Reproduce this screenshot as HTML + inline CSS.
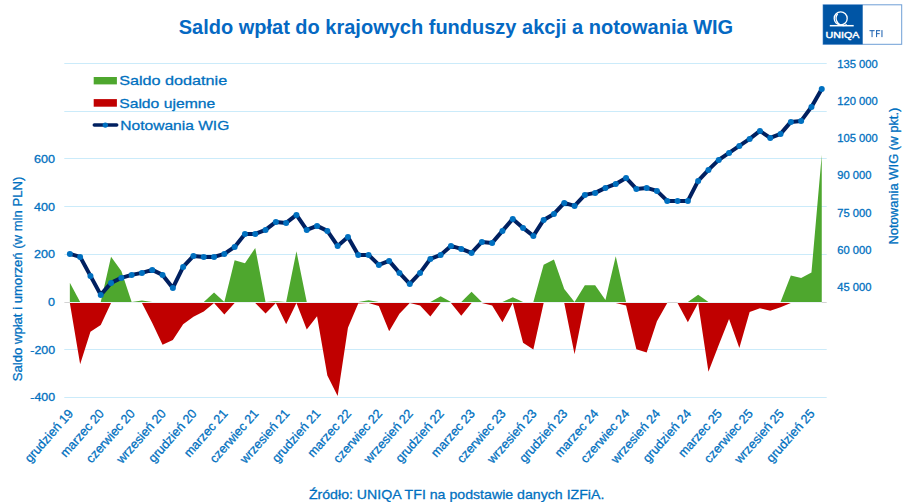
<!DOCTYPE html>
<html><head><meta charset="utf-8">
<style>
html,body{margin:0;padding:0;background:#fff;}
body{width:907px;height:502px;overflow:hidden;}
svg{display:block;font-family:"Liberation Sans",sans-serif;}
</style></head><body>
<svg width="907" height="502" viewBox="0 0 907 502">
<rect width="907" height="502" fill="#fff"/>

<line x1="64.3" x2="826.7" y1="63.50" y2="63.50" stroke="#cbebfa" stroke-width="1"/>
<line x1="64.3" x2="826.7" y1="111.50" y2="111.50" stroke="#cbebfa" stroke-width="1"/>
<line x1="64.3" x2="826.7" y1="158.50" y2="158.50" stroke="#cbebfa" stroke-width="1"/>
<line x1="64.3" x2="826.7" y1="206.50" y2="206.50" stroke="#cbebfa" stroke-width="1"/>
<line x1="64.3" x2="826.7" y1="254.50" y2="254.50" stroke="#cbebfa" stroke-width="1"/>
<line x1="64.3" x2="826.7" y1="349.50" y2="349.50" stroke="#cbebfa" stroke-width="1"/>
<line x1="64.3" x2="826.7" y1="397.50" y2="397.50" stroke="#cbebfa" stroke-width="1"/>
<line x1="64.4" x2="826.7" y1="302.5" y2="302.5" stroke="#d3d3d3" stroke-width="1"/>
<line x1="69.85" x2="667.25" y1="302.5" y2="302.5" stroke="#eaf3f6" stroke-width="1"/>
<line x1="677.55" x2="821.75" y1="302.5" y2="302.5" stroke="#eaf3f6" stroke-width="1"/>
<polygon points="69.85,302 69.85,282.75 80.15,302.00 90.45,302.00 100.75,302.00 111.05,256.78 121.35,271.08 131.65,302.00 141.95,300.38 152.25,302.00 162.55,302.00 172.85,302.00 183.15,302.00 193.45,302.00 203.75,302.00 214.05,292.52 224.35,302.00 234.65,260.36 244.95,263.22 255.25,247.97 265.55,302.00 275.85,301.34 286.15,302.00 296.45,251.30 306.75,302.00 317.05,302.00 327.35,302.00 337.65,302.00 347.95,302.00 358.25,302.00 368.55,300.14 378.85,302.00 389.15,302.00 399.45,302.00 409.75,302.00 420.05,302.00 430.35,302.00 440.65,296.33 450.95,302.00 461.25,302.00 471.55,291.81 481.85,302.00 492.15,302.00 502.45,302.00 512.75,297.29 523.05,302.00 533.35,302.00 543.65,264.64 553.95,259.40 564.25,288.95 574.55,302.00 584.85,285.13 595.15,285.13 605.45,299.91 615.75,256.31 626.05,302.00 636.35,302.00 646.65,302.00 656.95,302.00 667.25,302.00 677.55,302.00 687.85,302.00 698.15,294.66 708.45,302.00 718.75,302.00 729.05,302.00 739.35,302.00 749.65,302.00 759.95,302.00 770.25,302.00 780.55,302.00 790.85,275.60 801.15,277.99 811.45,272.51 821.75,154.81 821.75,302" fill="#4ea72e"/>
<polygon points="69.85,303 69.85,303.00 80.15,364.23 90.45,331.83 100.75,324.92 111.05,303.00 121.35,303.00 131.65,303.00 141.95,303.00 152.25,323.02 162.55,344.70 172.85,339.93 183.15,324.21 193.45,316.82 203.75,311.58 214.05,303.00 224.35,314.44 234.65,303.00 244.95,303.00 255.25,303.00 265.55,313.49 275.85,303.00 286.15,324.21 296.45,303.00 306.75,329.45 317.05,316.35 327.35,375.43 337.65,395.92 347.95,327.78 358.25,303.48 368.55,303.00 378.85,306.10 389.15,331.35 399.45,313.72 409.75,303.00 420.05,305.62 430.35,316.58 440.65,303.00 450.95,303.00 461.25,315.63 471.55,303.00 481.85,303.00 492.15,305.62 502.45,322.30 512.75,303.00 523.05,342.79 533.35,349.46 543.65,303.00 553.95,303.00 564.25,303.00 574.55,354.23 584.85,303.00 595.15,303.00 605.45,303.00 615.75,303.00 626.05,305.62 636.35,349.22 646.65,352.56 656.95,321.35 667.25,303.00 677.55,303.00 687.85,322.30 698.15,303.00 708.45,371.86 718.75,344.94 729.05,318.97 739.35,348.03 749.65,312.06 759.95,308.24 770.25,310.87 780.55,307.29 790.85,303.00 801.15,303.00 811.45,303.00 821.75,303.00 821.75,303" fill="#c00000"/>
<polyline points="69.85,253.90 80.15,256.90 90.45,275.90 100.75,294.90 111.05,282.90 121.35,277.90 131.65,274.90 141.95,272.90 152.25,269.90 162.55,274.90 172.85,287.90 183.15,266.90 193.45,255.90 203.75,256.90 214.05,256.90 224.35,253.90 234.65,246.90 244.95,233.90 255.25,233.90 265.55,229.90 275.85,221.90 286.15,222.90 296.45,214.90 306.75,229.90 317.05,225.90 327.35,230.90 337.65,245.90 347.95,236.90 358.25,254.90 368.55,254.90 378.85,264.90 389.15,260.90 399.45,272.90 409.75,283.90 420.05,272.90 430.35,258.90 440.65,254.90 450.95,245.90 461.25,248.90 471.55,252.90 481.85,241.90 492.15,242.90 502.45,230.90 512.75,218.90 523.05,227.90 533.35,235.90 543.65,219.90 553.95,213.90 564.25,202.90 574.55,205.90 584.85,194.90 595.15,192.90 605.45,187.90 615.75,183.90 626.05,177.90 636.35,188.90 646.65,187.90 656.95,190.90 667.25,200.90 677.55,200.90 687.85,200.90 698.15,180.90 708.45,169.90 718.75,159.90 729.05,152.90 739.35,145.90 749.65,138.90 759.95,130.90 770.25,137.90 780.55,133.90 790.85,121.90 801.15,120.90 811.45,106.90 821.75,88.90" fill="none" stroke="#002060" stroke-width="4" stroke-linejoin="round" stroke-linecap="round"/>
<circle cx="69.85" cy="253.90" r="3.0" fill="#0070c0"/>
<circle cx="80.15" cy="256.90" r="3.0" fill="#0070c0"/>
<circle cx="90.45" cy="275.90" r="3.0" fill="#0070c0"/>
<circle cx="100.75" cy="294.90" r="3.0" fill="#0070c0"/>
<circle cx="111.05" cy="282.90" r="3.0" fill="#0070c0"/>
<circle cx="121.35" cy="277.90" r="3.0" fill="#0070c0"/>
<circle cx="131.65" cy="274.90" r="3.0" fill="#0070c0"/>
<circle cx="141.95" cy="272.90" r="3.0" fill="#0070c0"/>
<circle cx="152.25" cy="269.90" r="3.0" fill="#0070c0"/>
<circle cx="162.55" cy="274.90" r="3.0" fill="#0070c0"/>
<circle cx="172.85" cy="287.90" r="3.0" fill="#0070c0"/>
<circle cx="183.15" cy="266.90" r="3.0" fill="#0070c0"/>
<circle cx="193.45" cy="255.90" r="3.0" fill="#0070c0"/>
<circle cx="203.75" cy="256.90" r="3.0" fill="#0070c0"/>
<circle cx="214.05" cy="256.90" r="3.0" fill="#0070c0"/>
<circle cx="224.35" cy="253.90" r="3.0" fill="#0070c0"/>
<circle cx="234.65" cy="246.90" r="3.0" fill="#0070c0"/>
<circle cx="244.95" cy="233.90" r="3.0" fill="#0070c0"/>
<circle cx="255.25" cy="233.90" r="3.0" fill="#0070c0"/>
<circle cx="265.55" cy="229.90" r="3.0" fill="#0070c0"/>
<circle cx="275.85" cy="221.90" r="3.0" fill="#0070c0"/>
<circle cx="286.15" cy="222.90" r="3.0" fill="#0070c0"/>
<circle cx="296.45" cy="214.90" r="3.0" fill="#0070c0"/>
<circle cx="306.75" cy="229.90" r="3.0" fill="#0070c0"/>
<circle cx="317.05" cy="225.90" r="3.0" fill="#0070c0"/>
<circle cx="327.35" cy="230.90" r="3.0" fill="#0070c0"/>
<circle cx="337.65" cy="245.90" r="3.0" fill="#0070c0"/>
<circle cx="347.95" cy="236.90" r="3.0" fill="#0070c0"/>
<circle cx="358.25" cy="254.90" r="3.0" fill="#0070c0"/>
<circle cx="368.55" cy="254.90" r="3.0" fill="#0070c0"/>
<circle cx="378.85" cy="264.90" r="3.0" fill="#0070c0"/>
<circle cx="389.15" cy="260.90" r="3.0" fill="#0070c0"/>
<circle cx="399.45" cy="272.90" r="3.0" fill="#0070c0"/>
<circle cx="409.75" cy="283.90" r="3.0" fill="#0070c0"/>
<circle cx="420.05" cy="272.90" r="3.0" fill="#0070c0"/>
<circle cx="430.35" cy="258.90" r="3.0" fill="#0070c0"/>
<circle cx="440.65" cy="254.90" r="3.0" fill="#0070c0"/>
<circle cx="450.95" cy="245.90" r="3.0" fill="#0070c0"/>
<circle cx="461.25" cy="248.90" r="3.0" fill="#0070c0"/>
<circle cx="471.55" cy="252.90" r="3.0" fill="#0070c0"/>
<circle cx="481.85" cy="241.90" r="3.0" fill="#0070c0"/>
<circle cx="492.15" cy="242.90" r="3.0" fill="#0070c0"/>
<circle cx="502.45" cy="230.90" r="3.0" fill="#0070c0"/>
<circle cx="512.75" cy="218.90" r="3.0" fill="#0070c0"/>
<circle cx="523.05" cy="227.90" r="3.0" fill="#0070c0"/>
<circle cx="533.35" cy="235.90" r="3.0" fill="#0070c0"/>
<circle cx="543.65" cy="219.90" r="3.0" fill="#0070c0"/>
<circle cx="553.95" cy="213.90" r="3.0" fill="#0070c0"/>
<circle cx="564.25" cy="202.90" r="3.0" fill="#0070c0"/>
<circle cx="574.55" cy="205.90" r="3.0" fill="#0070c0"/>
<circle cx="584.85" cy="194.90" r="3.0" fill="#0070c0"/>
<circle cx="595.15" cy="192.90" r="3.0" fill="#0070c0"/>
<circle cx="605.45" cy="187.90" r="3.0" fill="#0070c0"/>
<circle cx="615.75" cy="183.90" r="3.0" fill="#0070c0"/>
<circle cx="626.05" cy="177.90" r="3.0" fill="#0070c0"/>
<circle cx="636.35" cy="188.90" r="3.0" fill="#0070c0"/>
<circle cx="646.65" cy="187.90" r="3.0" fill="#0070c0"/>
<circle cx="656.95" cy="190.90" r="3.0" fill="#0070c0"/>
<circle cx="667.25" cy="200.90" r="3.0" fill="#0070c0"/>
<circle cx="677.55" cy="200.90" r="3.0" fill="#0070c0"/>
<circle cx="687.85" cy="200.90" r="3.0" fill="#0070c0"/>
<circle cx="698.15" cy="180.90" r="3.0" fill="#0070c0"/>
<circle cx="708.45" cy="169.90" r="3.0" fill="#0070c0"/>
<circle cx="718.75" cy="159.90" r="3.0" fill="#0070c0"/>
<circle cx="729.05" cy="152.90" r="3.0" fill="#0070c0"/>
<circle cx="739.35" cy="145.90" r="3.0" fill="#0070c0"/>
<circle cx="749.65" cy="138.90" r="3.0" fill="#0070c0"/>
<circle cx="759.95" cy="130.90" r="3.0" fill="#0070c0"/>
<circle cx="770.25" cy="137.90" r="3.0" fill="#0070c0"/>
<circle cx="780.55" cy="133.90" r="3.0" fill="#0070c0"/>
<circle cx="790.85" cy="121.90" r="3.0" fill="#0070c0"/>
<circle cx="801.15" cy="120.90" r="3.0" fill="#0070c0"/>
<circle cx="811.45" cy="106.90" r="3.0" fill="#0070c0"/>
<circle cx="821.75" cy="88.90" r="3.0" fill="#0070c0"/>
<text x="178.7" y="34.1" font-size="19.3" font-weight="bold" fill="#0569c3" textLength="554.5" lengthAdjust="spacingAndGlyphs">Saldo wpłat do krajowych funduszy akcji a notowania WIG</text>
<rect x="93.7" y="77" width="23.2" height="7.4" fill="#4ea72e"/>
<rect x="93.7" y="99.1" width="23.2" height="7.6" fill="#c00000"/>
<line x1="94.3" x2="116.7" y1="125.1" y2="125.1" stroke="#002060" stroke-width="3.5" stroke-linecap="round"/>
<circle cx="105.3" cy="125.1" r="2.7" fill="#0070c0"/>
<text x="119.2" y="84.8" font-size="13.3" fill="#0070c0" stroke="#0070c0" stroke-width="0.28" textLength="108" lengthAdjust="spacingAndGlyphs">Saldo dodatnie</text>
<text x="119.2" y="107.5" font-size="13.3" fill="#0070c0" stroke="#0070c0" stroke-width="0.28" textLength="96" lengthAdjust="spacingAndGlyphs">Saldo ujemne</text>
<text x="120.3" y="130" font-size="13.3" fill="#0070c0" stroke="#0070c0" stroke-width="0.28" textLength="109" lengthAdjust="spacingAndGlyphs">Notowania WIG</text>
<text x="55.1" y="162.90" font-size="11.4" fill="#0070c0" stroke="#0070c0" stroke-width="0.28" text-anchor="end" textLength="21.0" lengthAdjust="spacingAndGlyphs">600</text>
<text x="55.1" y="210.60" font-size="11.4" fill="#0070c0" stroke="#0070c0" stroke-width="0.28" text-anchor="end" textLength="21.0" lengthAdjust="spacingAndGlyphs">400</text>
<text x="55.1" y="258.30" font-size="11.4" fill="#0070c0" stroke="#0070c0" stroke-width="0.28" text-anchor="end" textLength="21.0" lengthAdjust="spacingAndGlyphs">200</text>
<text x="55.1" y="306.00" font-size="11.4" fill="#0070c0" stroke="#0070c0" stroke-width="0.28" text-anchor="end" textLength="7.0" lengthAdjust="spacingAndGlyphs">0</text>
<text x="55.1" y="353.70" font-size="11.4" fill="#0070c0" stroke="#0070c0" stroke-width="0.28" text-anchor="end" textLength="24.8" lengthAdjust="spacingAndGlyphs">-200</text>
<text x="55.1" y="401.40" font-size="11.4" fill="#0070c0" stroke="#0070c0" stroke-width="0.28" text-anchor="end" textLength="24.8" lengthAdjust="spacingAndGlyphs">-400</text>
<text x="837.2" y="68.30" font-size="10.5" fill="#0070c0" stroke="#0070c0" stroke-width="0.28" textLength="40.6" lengthAdjust="spacingAndGlyphs">135 000</text>
<text x="837.2" y="105.36" font-size="10.5" fill="#0070c0" stroke="#0070c0" stroke-width="0.28" textLength="40.6" lengthAdjust="spacingAndGlyphs">120 000</text>
<text x="837.2" y="142.42" font-size="10.5" fill="#0070c0" stroke="#0070c0" stroke-width="0.28" textLength="40.6" lengthAdjust="spacingAndGlyphs">105 000</text>
<text x="837.2" y="179.48" font-size="10.5" fill="#0070c0" stroke="#0070c0" stroke-width="0.28" textLength="34.2" lengthAdjust="spacingAndGlyphs">90 000</text>
<text x="837.2" y="216.54" font-size="10.5" fill="#0070c0" stroke="#0070c0" stroke-width="0.28" textLength="34.2" lengthAdjust="spacingAndGlyphs">75 000</text>
<text x="837.2" y="253.61" font-size="10.5" fill="#0070c0" stroke="#0070c0" stroke-width="0.28" textLength="34.2" lengthAdjust="spacingAndGlyphs">60 000</text>
<text x="837.2" y="290.67" font-size="10.5" fill="#0070c0" stroke="#0070c0" stroke-width="0.28" textLength="34.2" lengthAdjust="spacingAndGlyphs">45 000</text>
<text transform="translate(22.0,381.2) rotate(-90)" font-size="12.2" fill="#0070c0" stroke="#0070c0" stroke-width="0.28" textLength="204.5" lengthAdjust="spacingAndGlyphs">Saldo wpłat i umorzeń (w mln PLN)</text>
<text transform="translate(897.6,244.6) rotate(-90)" font-size="12.2" fill="#0070c0" stroke="#0070c0" stroke-width="0.28" textLength="137" lengthAdjust="spacingAndGlyphs">Notowania WIG (w pkt.)</text>
<text transform="translate(73.85,414.00) rotate(-48.5)" font-size="12.6" fill="#0070c0" stroke="#0070c0" stroke-width="0.28" text-anchor="end">grudzień 19</text>
<text transform="translate(104.75,414.00) rotate(-48.5)" font-size="12.6" fill="#0070c0" stroke="#0070c0" stroke-width="0.28" text-anchor="end">marzec 20</text>
<text transform="translate(135.65,414.00) rotate(-48.5)" font-size="12.6" fill="#0070c0" stroke="#0070c0" stroke-width="0.28" text-anchor="end">czerwiec 20</text>
<text transform="translate(166.55,414.00) rotate(-48.5)" font-size="12.6" fill="#0070c0" stroke="#0070c0" stroke-width="0.28" text-anchor="end">wrzesień 20</text>
<text transform="translate(197.45,414.00) rotate(-48.5)" font-size="12.6" fill="#0070c0" stroke="#0070c0" stroke-width="0.28" text-anchor="end">grudzień 20</text>
<text transform="translate(228.35,414.00) rotate(-48.5)" font-size="12.6" fill="#0070c0" stroke="#0070c0" stroke-width="0.28" text-anchor="end">marzec 21</text>
<text transform="translate(259.25,414.00) rotate(-48.5)" font-size="12.6" fill="#0070c0" stroke="#0070c0" stroke-width="0.28" text-anchor="end">czerwiec 21</text>
<text transform="translate(290.15,414.00) rotate(-48.5)" font-size="12.6" fill="#0070c0" stroke="#0070c0" stroke-width="0.28" text-anchor="end">wrzesień 21</text>
<text transform="translate(321.05,414.00) rotate(-48.5)" font-size="12.6" fill="#0070c0" stroke="#0070c0" stroke-width="0.28" text-anchor="end">grudzień 21</text>
<text transform="translate(351.95,414.00) rotate(-48.5)" font-size="12.6" fill="#0070c0" stroke="#0070c0" stroke-width="0.28" text-anchor="end">marzec 22</text>
<text transform="translate(382.85,414.00) rotate(-48.5)" font-size="12.6" fill="#0070c0" stroke="#0070c0" stroke-width="0.28" text-anchor="end">czerwiec 22</text>
<text transform="translate(413.75,414.00) rotate(-48.5)" font-size="12.6" fill="#0070c0" stroke="#0070c0" stroke-width="0.28" text-anchor="end">wrzesień 22</text>
<text transform="translate(444.65,414.00) rotate(-48.5)" font-size="12.6" fill="#0070c0" stroke="#0070c0" stroke-width="0.28" text-anchor="end">grudzień 22</text>
<text transform="translate(475.55,414.00) rotate(-48.5)" font-size="12.6" fill="#0070c0" stroke="#0070c0" stroke-width="0.28" text-anchor="end">marzec 23</text>
<text transform="translate(506.45,414.00) rotate(-48.5)" font-size="12.6" fill="#0070c0" stroke="#0070c0" stroke-width="0.28" text-anchor="end">czerwiec 23</text>
<text transform="translate(537.35,414.00) rotate(-48.5)" font-size="12.6" fill="#0070c0" stroke="#0070c0" stroke-width="0.28" text-anchor="end">wrzesień 23</text>
<text transform="translate(568.25,414.00) rotate(-48.5)" font-size="12.6" fill="#0070c0" stroke="#0070c0" stroke-width="0.28" text-anchor="end">grudzień 23</text>
<text transform="translate(599.15,414.00) rotate(-48.5)" font-size="12.6" fill="#0070c0" stroke="#0070c0" stroke-width="0.28" text-anchor="end">marzec 24</text>
<text transform="translate(630.05,414.00) rotate(-48.5)" font-size="12.6" fill="#0070c0" stroke="#0070c0" stroke-width="0.28" text-anchor="end">czerwiec 24</text>
<text transform="translate(660.95,414.00) rotate(-48.5)" font-size="12.6" fill="#0070c0" stroke="#0070c0" stroke-width="0.28" text-anchor="end">wrzesień 24</text>
<text transform="translate(691.85,414.00) rotate(-48.5)" font-size="12.6" fill="#0070c0" stroke="#0070c0" stroke-width="0.28" text-anchor="end">grudzień 24</text>
<text transform="translate(722.75,414.00) rotate(-48.5)" font-size="12.6" fill="#0070c0" stroke="#0070c0" stroke-width="0.28" text-anchor="end">marzec 25</text>
<text transform="translate(753.65,414.00) rotate(-48.5)" font-size="12.6" fill="#0070c0" stroke="#0070c0" stroke-width="0.28" text-anchor="end">czerwiec 25</text>
<text transform="translate(784.55,414.00) rotate(-48.5)" font-size="12.6" fill="#0070c0" stroke="#0070c0" stroke-width="0.28" text-anchor="end">wrzesień 25</text>
<text transform="translate(815.45,414.00) rotate(-48.5)" font-size="12.6" fill="#0070c0" stroke="#0070c0" stroke-width="0.28" text-anchor="end">grudzień 25</text>
<text x="308.9" y="499.1" font-size="13.6" fill="#0070c0" stroke="#0070c0" stroke-width="0.28" textLength="295.5" lengthAdjust="spacingAndGlyphs">Źródło: UNIQA TFI na podstawie danych IZFiA.</text>
<rect x="823.1" y="4.8" width="78.6" height="39.5" fill="#fff" stroke="#6f9fd6" stroke-width="1"/>
<rect x="823.1" y="4.8" width="39.6" height="39.5" fill="#0055a5"/>
<circle cx="840.7" cy="18.4" r="6.5" fill="none" stroke="#fff" stroke-width="1.3"/>
<path d="M837.6 13.8 A7.3 7.3 0 0 0 846.8 24.7" fill="none" stroke="#fff" stroke-width="1.4"/>
<line x1="829.8" x2="853.7" y1="25.7" y2="25.7" stroke="#fff" stroke-width="1.5"/>
<text x="825.6" y="37.5" font-size="9.6" fill="#fff" stroke="#fff" stroke-width="0.45" textLength="33.9" lengthAdjust="spacingAndGlyphs">UNIQA</text>
<g fill="#2b6cb6"><rect x="869.5" y="30.1" width="5.1" height="1.1"/><rect x="871.5" y="30.1" width="1.1" height="7"/><rect x="876" y="30.1" width="1.1" height="7"/><rect x="876" y="30.1" width="4.2" height="1.1"/><rect x="876" y="33.1" width="3.7" height="1.05"/><rect x="881.4" y="30.1" width="1.1" height="7"/></g>
</svg></body></html>
